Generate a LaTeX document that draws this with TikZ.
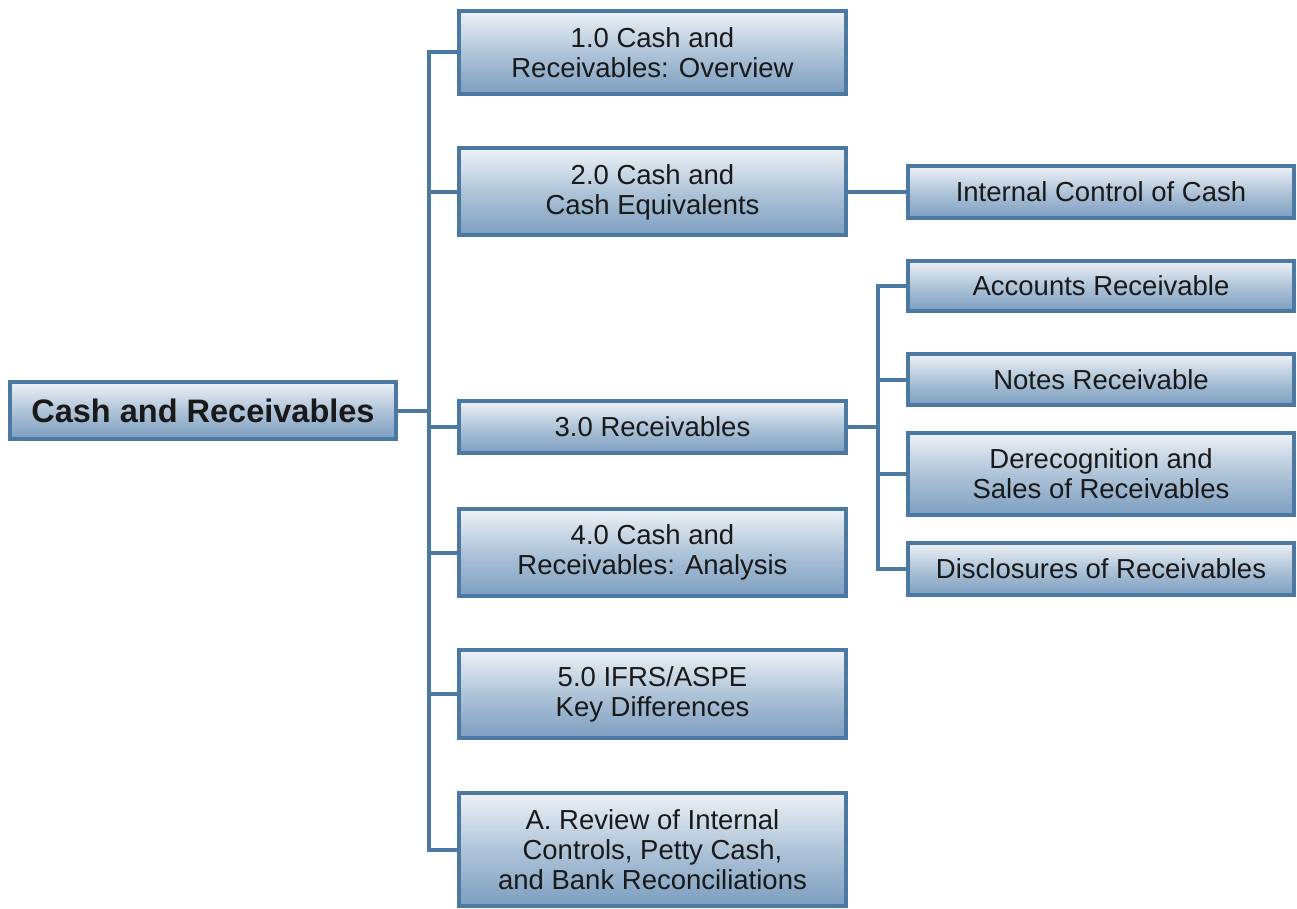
\documentclass[tikz,border=0pt]{standalone}
\usepackage{fontspec}
\setmainfont{Liberation Sans}
\definecolor{edgeblue}{HTML}{4C79A2}
\definecolor{topfill}{HTML}{EEF2F6}
\definecolor{botfill}{HTML}{7C9EC0}
\begin{document}
\begin{tikzpicture}[x=1pt,y=-1pt,
  box/.style={draw=edgeblue, line width=4pt, top color=topfill, bottom color=botfill,
    middle color=topfill!45!botfill, shading angle=0,
    minimum width=387pt, inner sep=0pt, align=center, text=black!90,
    font=\fontsize{27.5}{30}\selectfont},
  conn/.style={draw=edgeblue, line width=4pt}]
\useasboundingbox (0,0) rectangle (1297,909);
% root
\node[box, minimum width=386pt, minimum height=57pt, font=\bfseries\fontsize{32.5}{34}\selectfont] (root) at (203,410.5) {Cash and Receivables};
% level 1
\node[box, minimum height=83pt] (b1) at (652.5,52.5) {1.0 Cash and\\Receivables: Overview};
\node[box, minimum height=87pt] (b2) at (652.5,192) {2.0 Cash and\\Cash Equivalents};
\node[box, minimum height=52pt] (b3) at (652.5,427) {3.0 Receivables};
\node[box, minimum height=87pt] (b4) at (652.5,552.5) {4.0 Cash and\\Receivables: Analysis};
\node[box, minimum height=88pt] (b5) at (652.5,694) {5.0 IFRS/ASPE\\Key Differences};
\node[box, minimum height=113pt] (bA) at (652.5,849.5) {A. Review of Internal\\Controls, Petty Cash,\\and Bank Reconciliations};
% level 2
\node[box, minimum width=386pt, minimum height=52pt] (c1) at (1101,192) {Internal Control of Cash};
\node[box, minimum width=386pt, minimum height=50pt] (c2) at (1101,286) {Accounts Receivable};
\node[box, minimum width=386pt, minimum height=51pt] (c3) at (1101,379.5) {Notes Receivable};
\node[box, minimum width=386pt, minimum height=82pt] (c4) at (1101,474) {Derecognition and\\Sales of Receivables};
\node[box, minimum width=386pt, minimum height=52pt] (c5) at (1101,569) {Disclosures of Receivables};
% trunks
\coordinate (tr1) at (429,0);
\coordinate (tr2) at (878,0);
\draw[conn] (b1.west) -| (tr1 |- bA.west) -- (bA.west);
\draw[conn] (root.east) -- (root.east -| tr1);
\draw[conn] (b2.west) -- (b2.west -| tr1);
\draw[conn] (b3.west) -- (b3.west -| tr1);
\draw[conn] (b4.west) -- (b4.west -| tr1);
\draw[conn] (b5.west) -- (b5.west -| tr1);
\draw[conn] (b2.east) -- (c1.west);
\draw[conn] (c2.west) -| (tr2 |- c5.west) -- (c5.west);
\draw[conn] (b3.east) -- (b3.east -| tr2);
\draw[conn] (c3.west) -- (c3.west -| tr2);
\draw[conn] (c4.west) -- (c4.west -| tr2);
\end{tikzpicture}
\end{document}
